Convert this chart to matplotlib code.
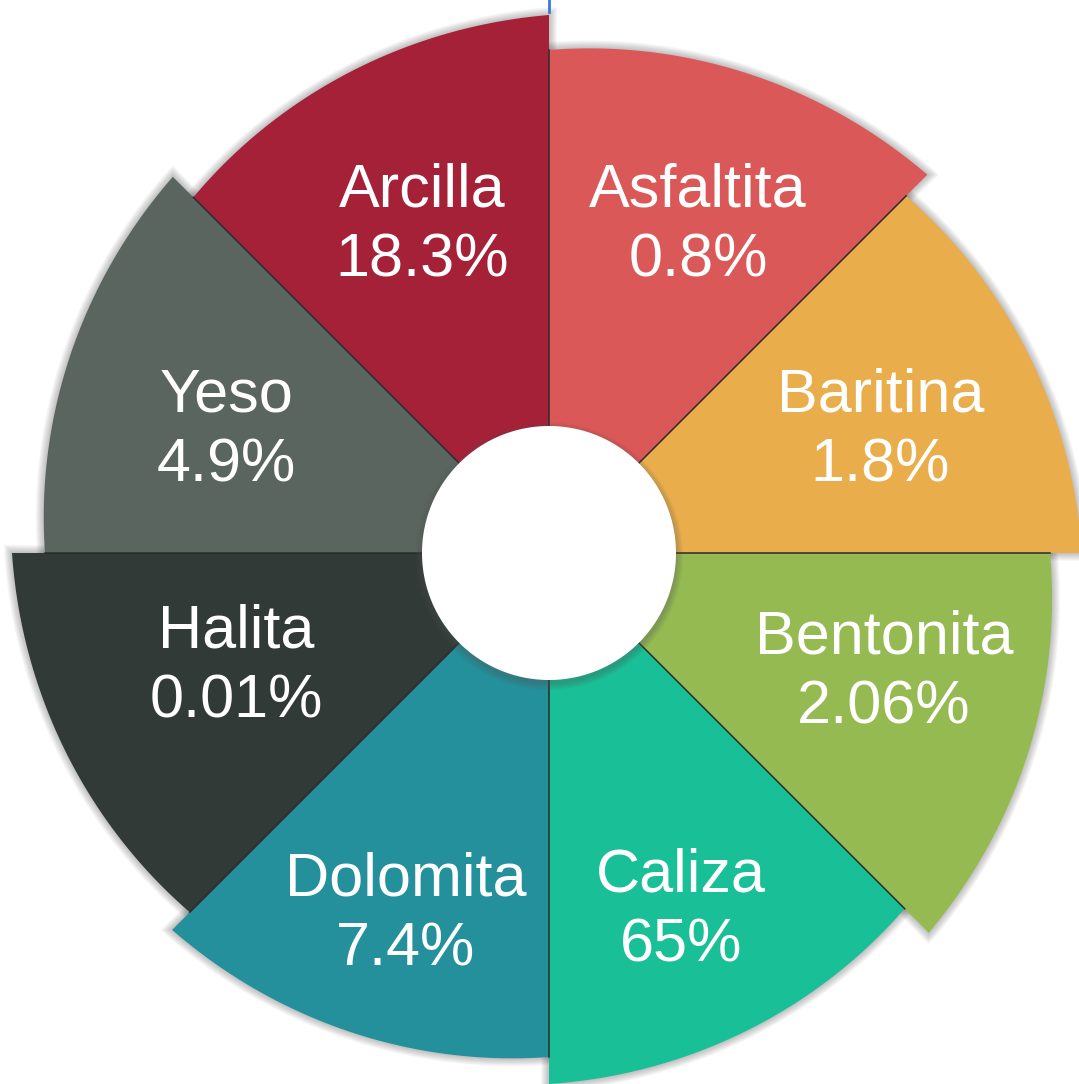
import numpy as np
import matplotlib
matplotlib.use("Agg")
import matplotlib.pyplot as plt
from matplotlib.lines import Line2D

# Minerals, clockwise from 12 o'clock
minerals = ["Asfaltita", "Baritina", "Bentonita", "Caliza",
            "Dolomita", "Halita", "Yeso", "Arcilla"]
shares = [0.8, 1.8, 2.06, 65, 7.4, 0.01, 4.9, 18.3]

# Styling: segment colours, outer radius at the leading / trailing edge
colors = ["#DB5858", "#EAAD4B", "#95BA52", "#19BF96",
          "#24909B", "#323A37", "#5B6560", "#A52138"]
r_lead = [503, 505, 501, 503, 504, 508, 504, 503]
r_trail = [535, 533, 537, 531, 533, 537, 532, 538]
# label anchor (clockwise degrees from north, radius)
label_ang = [24.1, 68.9, 108.8, 159.4, 201.9, 250.9, 291.6, 339.1]
label_rad = [365, 355, 354, 376, 384, 331, 347, 356]
hole_r = 127

W, H = 1079, 1084
cx, cy = 549, H - 553
S = 1100

fig = plt.figure(figsize=(W / 100, H / 100), dpi=100)
fig.patch.set_facecolor("white")
ax = fig.add_axes([(cx - S / 2) / W, (cy - S / 2) / H, S / W, S / H],
                  projection="polar")
ax.set_theta_zero_location("N")
ax.set_theta_direction(-1)
ax.set_ylim(0, S / 2)
ax.set_axis_off()

n = len(minerals)
span = 2 * np.pi / n


def wedge(i, grow=0.0):
    t0, t1 = i * span, (i + 1) * span
    g = grow / 520.0
    t = np.linspace(t0 - g, t1 + g, 120)
    r = np.interp(t, [t0, t1], [r_lead[i], r_trail[i]]) + grow
    return np.r_[t0, t, t1], np.r_[0, r, 0]


# soft shadow around the outer edges
for i in range(n):
    for k in range(8, 0, -1):
        t, r = wedge(i, k)
        ax.fill(t, r, color="black", alpha=0.03, lw=0, zorder=1)

for i in range(n):
    t, r = wedge(i)
    ax.fill(t, r, color=colors[i], lw=0, zorder=2)

# thin dark separators between segments
for i in range(n):
    a = i * span
    r_end = min(r_lead[i], r_trail[i - 1])
    ax.plot([a, a], [hole_r, r_end], color="#2b2b2b", lw=1.1, zorder=3)

# centre hole with a soft rim shadow, slightly lower than the disc
tt = np.linspace(0, 2 * np.pi, 400)
disc_x = np.cos(tt)
disc_y = np.sin(tt)
for k in range(7, 0, -1):
    rr = hole_r + k
    ax.fill(np.arctan2(rr * disc_x, rr * disc_y - 3) % (2 * np.pi),
            np.hypot(rr * disc_x, rr * disc_y - 3),
            color="#555555", alpha=0.05, lw=0, zorder=4)
ax.fill(tt, np.full_like(tt, hole_r), color="white", lw=0, zorder=5)

for i, (name, v) in enumerate(zip(minerals, shares)):
    anchor = (np.deg2rad(label_ang[i]), label_rad[i])
    ax.annotate(name, anchor, xytext=(0, 13.5), textcoords="offset pixels",
                ha="center", va="baseline", color="white", fontsize=44,
                family="Liberation Sans", zorder=6)
    ax.annotate(f"{v:g}%", anchor, xytext=(0, -56.5),
                textcoords="offset pixels", ha="center", va="baseline",
                color="white", fontsize=44, family="Liberation Sans",
                zorder=6)

# small blue tick at the top edge
fig.add_artist(Line2D([549 / W, 549 / W], [1.0, 1 - 12 / H],
                      color="#3B78D8", lw=2, transform=fig.transFigure))

fig.savefig("out.png", dpi=100, facecolor="white")
